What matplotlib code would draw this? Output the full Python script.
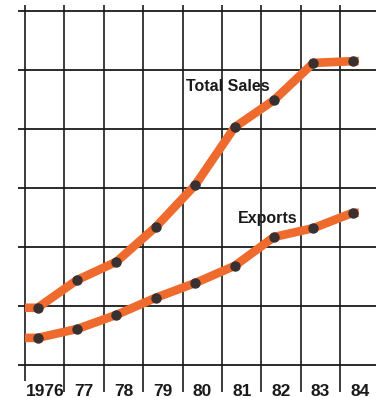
import matplotlib
matplotlib.use("Agg")
import matplotlib.pyplot as plt
import numpy as np

years = ["1976", "77", "78", "79", "80", "81", "82", "83", "84"]
total_sales = [0.97, 1.44, 1.75, 2.34, 3.05, 4.03, 4.49, 5.12, 5.15]
exports = [0.46, 0.61, 0.85, 1.14, 1.39, 1.68, 2.17, 2.32, 2.58]
y_grid = [0, 1, 2, 3, 4, 5, 6]

plt.rcParams['font.family'] = ['Liberation Sans', 'DejaVu Sans']

fig = plt.figure(figsize=(3.76, 3.98), dpi=100)
ax = fig.add_axes([0, 0, 1, 1])
ax.set_axis_off()

# pixel mapping: x_px = 44.7 + 39.4*i ; y_px(from top) = 365 - 59*v
ax.set_xlim(-44.7 / 39.4, (376 - 44.7) / 39.4)
ax.set_ylim((365 - 398) / 59, 365 / 59)

n = len(years)
idx = np.arange(n)

# grid
for v in y_grid:
    ax.plot([(18 - 44.7) / 39.4, 9], [v, v], color="#1a1a1a", lw=1.3, zorder=1,
            solid_capstyle="butt")
for i in idx:
    bottom = 381 if i == 0 else 392
    ax.plot([i - 0.5, i - 0.5], [(365 - bottom) / 59, (365 - 5) / 59],
            color="#1a1a1a", lw=1.2, zorder=1, solid_capstyle="butt")

orange = "#EF6A2D"
dot = "#3a3030"
shift = 0.18
xp = idx - shift

for series in (total_sales, exports):
    xs = np.concatenate([[-0.5], xp, [xp[-1] + 0.15]])
    ys = np.concatenate([[series[0]], series, [series[-1]]])
    ax.plot(xs, ys, color=orange, lw=6.2, solid_joinstyle="round",
            solid_capstyle="butt", zorder=2)
    ax.plot(xp, series, linestyle="none", marker="o", markersize=6.5,
            markerfacecolor=dot, markeredgecolor=dot, zorder=3)

for i, lab in enumerate(years):
    ax.text(i, (365 - 391) / 59, lab, ha="center", va="center",
            fontsize=12.5, fontweight="bold", color="#1a1a1a")

ax.text(4.65, (365 - 86) / 59, "Total Sales", ha="center", va="center",
        fontsize=11.5, fontweight="bold", color="#1a1a1a", zorder=4)
ax.text(5.65, (365 - 219) / 59, "Exports", ha="center", va="center",
        fontsize=11.5, fontweight="bold", color="#1a1a1a", zorder=4)

fig.savefig("out.png", dpi=100, facecolor="white")
